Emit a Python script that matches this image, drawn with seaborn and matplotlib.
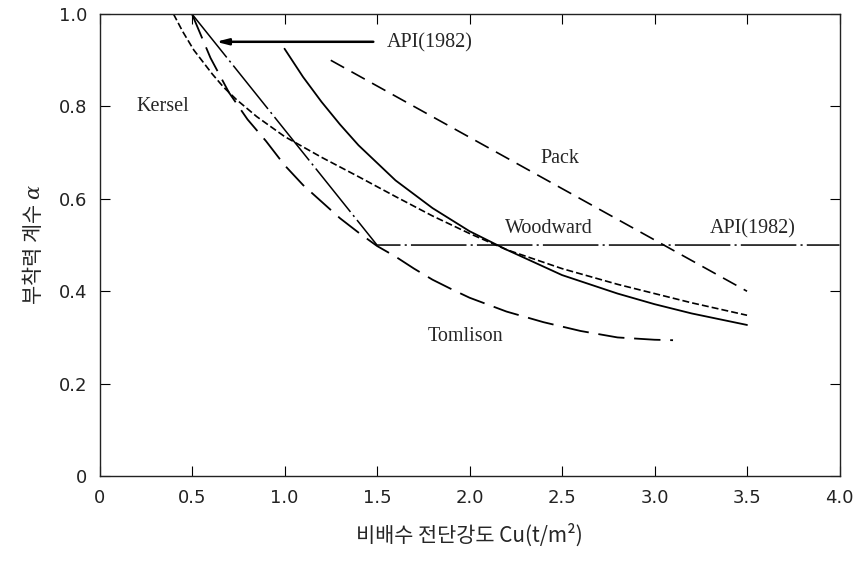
import matplotlib
matplotlib.use('Agg')
import matplotlib.pyplot as plt
import seaborn as sns

# ---- data ----
kersel_x = [0.40, 0.45, 0.51, 0.61, 0.67, 0.74, 0.85, 1.00, 1.20, 1.40, 1.60, 1.80, 2.00, 2.20, 2.50, 2.80, 3.00, 3.20, 3.50]
kersel_y = [1.00, 0.962, 0.922, 0.870, 0.842, 0.815, 0.778, 0.735, 0.690, 0.648, 0.605, 0.563, 0.525, 0.490, 0.449, 0.415, 0.395, 0.375, 0.348]

woodward_x = [1.00, 1.10, 1.20, 1.30, 1.40, 1.60, 1.80, 2.00, 2.20, 2.50, 2.80, 3.00, 3.20, 3.50]
woodward_y = [0.925, 0.864, 0.810, 0.761, 0.716, 0.640, 0.580, 0.530, 0.490, 0.435, 0.395, 0.372, 0.352, 0.327]

tomlison_x = [0.50, 0.60, 0.70, 0.80, 0.90, 1.00, 1.10, 1.20, 1.30, 1.40, 1.50, 1.60, 1.70, 1.80,
              1.90, 2.00, 2.20, 2.40, 2.60, 2.80, 3.00, 3.10]
tomlison_y = [1.00, 0.905, 0.830, 0.772, 0.725, 0.673, 0.630, 0.594, 0.558, 0.527, 0.498, 0.475, 0.449, 0.425,
              0.405, 0.386, 0.356, 0.333, 0.314, 0.300, 0.295, 0.294]

pack_x = [1.25, 3.50]
pack_y = [0.90, 0.40]

api_x = [0.50, 1.50, 4.00]
api_y = [1.00, 0.50, 0.50]

x_ticks = [0, 0.5, 1.0, 1.5, 2.0, 2.5, 3.0, 3.5, 4.0]
x_tick_labels = ['0', '0.5', '1.0', '1.5', '2.0', '2.5', '3.0', '3.5', '4.0']
y_ticks = [0, 0.2, 0.4, 0.6, 0.8, 1.0]
y_tick_labels = ['0', '0.2', '0.4', '0.6', '0.8', '1.0']

# ---- style ----
sns.set_style('ticks')
plt.rcParams['font.family'] = ['Noto Sans CJK KR', 'DejaVu Sans']
plt.rcParams['lines.scale_dashes'] = False
plt.rcParams['mathtext.fontset'] = 'dejavuserif'

fig = plt.figure(figsize=(8.6, 5.63), dpi=100)
ax = fig.add_axes([0.1157, 0.1545, 0.8605, 0.8205])

series = [
    (kersel_x, kersel_y, (0, (5, 2.2)), 1.2),
    (woodward_x, woodward_y, '-', 1.3),
    (tomlison_x, tomlison_y, (0, (19, 7)), 1.3),
    (pack_x, pack_y, (0, (11, 6)), 1.2),
    (api_x, api_y, (0, (40, 3, 1.5, 3)), 1.1),
]
for xs, ys, ls, lw in series:
    sns.lineplot(x=xs, y=ys, ax=ax, color='black', lw=lw, linestyle=ls,
                 sort=False, estimator=None)

ax.set_xlim(0, 4.0)
ax.set_ylim(0, 1.0)
ax.set_xticks(x_ticks)
ax.set_xticklabels(x_tick_labels)
ax.set_yticks(y_ticks)
ax.set_yticklabels(y_tick_labels)
ax.tick_params(direction='in', length=7, width=0.8, top=True, right=True,
               labelsize=13, pad=9, colors='black')
for lab in ax.get_xticklabels() + ax.get_yticklabels():
    lab.set_fontfamily(['DejaVu Sans'])
    lab.set_color('#222222')
for sp in ax.spines.values():
    sp.set_visible(True)
    sp.set_linewidth(1.0)
    sp.set_color('#222222')

serif = ['Liberation Serif', 'DejaVu Serif']
fs = 14.5
ax.text(0.20, 0.80, 'Kersel', family=serif, fontsize=fs, ha='left', va='center')
ax.text(1.554, 0.937, 'API(1982)', family=serif, fontsize=fs, ha='left', va='center')
ax.text(2.49, 0.688, 'Pack', family=serif, fontsize=fs, ha='center', va='center')
ax.text(2.43, 0.535, 'Woodward', family=serif, fontsize=fs, ha='center', va='center')
ax.text(3.53, 0.535, 'API(1982)', family=serif, fontsize=fs, ha='center', va='center')
ax.text(1.98, 0.303, 'Tomlison', family=serif, fontsize=fs, ha='center', va='center')

ax.annotate('', xy=(0.63, 0.94), xytext=(1.48, 0.94),
            arrowprops=dict(arrowstyle='-|>,head_length=0.7,head_width=0.18',
                            color='black', lw=1.8, shrinkA=0, shrinkB=0))

ax.set_xlabel('비배수 전단강도 Cu(t/m²)', fontsize=15, labelpad=12)
ax.set_ylabel('부착력 계수 $\\alpha$', fontsize=15, labelpad=10)

fig.savefig('out.png', dpi=100)
